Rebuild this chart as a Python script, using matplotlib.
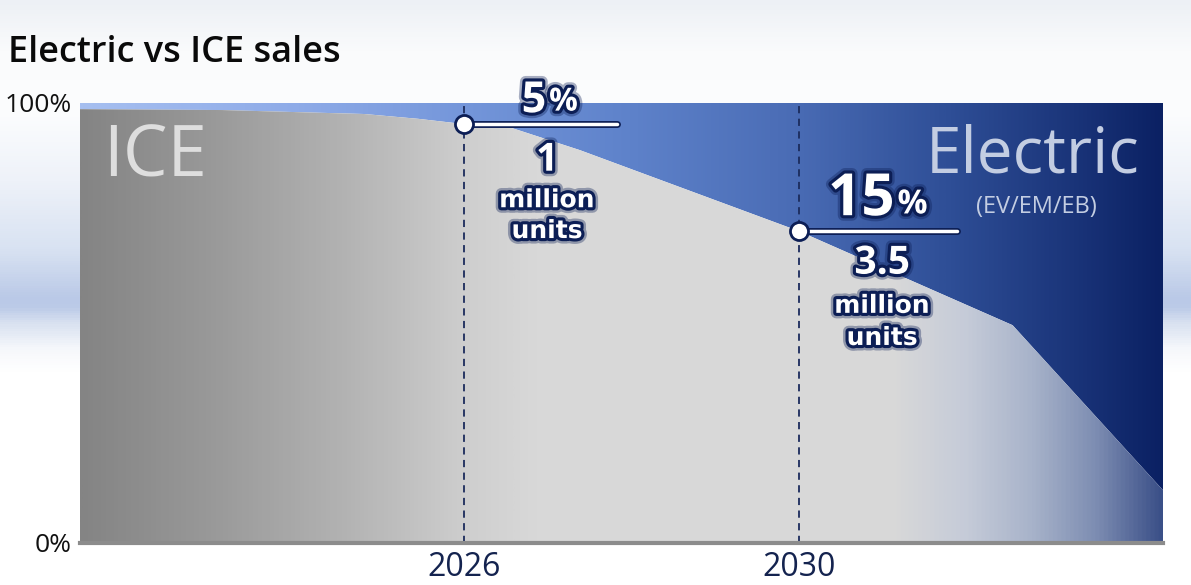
import numpy as np
import matplotlib
matplotlib.use("Agg")
import matplotlib.pyplot as plt
import matplotlib.patheffects as pe
from matplotlib.colors import LinearSegmentedColormap

years = [2021.4, 2023.1, 2024.8, 2025.45, 2026.0, 2026.57, 2027.38, 2030.0, 2032.56, 2034.36]
ice_share = [98.6, 98.4, 97.5, 96.4, 95.2, 94.3, 89.3, 70.9, 49.5, 12.0]

milestone_years = [2026, 2030]
ev_pct_labels = ["5", "15"]
unit_labels = ["1", "3.5"]
tick_years = [2026, 2030]
y_ticks = [0, 100]
y_tick_labels = ["0%", "100%"]

NAVY = "#0c1e55"
FONT = ["Open Sans", "DejaVu Sans"]

plt.rcParams["font.family"] = FONT

fig = plt.figure(figsize=(11.91, 5.85), dpi=100)

# soft background band
bg = fig.add_axes([0, 0, 1, 1], zorder=-5)
bg_cmap = LinearSegmentedColormap.from_list("bg", [
    (0.0, "#edf0f5"), (50 / 585, "#fafbfc"), (110 / 585, "#fcfdfe"),
    (180 / 585, "#eef2f9"), (250 / 585, "#d8e2f2"), (298 / 585, "#bac9e7"),
    (308 / 585, "#bccbe8"), (322 / 585, "#d7e0f0"), (348 / 585, "#f5f7fb"),
    (372 / 585, "#ffffff"), (1.0, "#ffffff")])
bg.imshow(np.linspace(0, 1, 585)[:, None], cmap=bg_cmap, aspect="auto",
          extent=[0, 1, 0, 1], origin="upper")
bg.set_axis_off()

ax = fig.add_axes([80 / 1191, 42 / 585, 1083 / 1191, 440 / 585])
x0, x1 = years[0], years[-1]
ax.set_xlim(x0, x1)
ax.set_ylim(0, 100)

ev_cmap = LinearSegmentedColormap.from_list("ev", [
    (0.0, "#a6bff0"), (0.2, "#8eabe8"), (0.355, "#7496da"), (0.5, "#5f83cb"),
    (0.66, "#4a6cb5"), (0.8, "#2f4f97"), (0.92, "#1a3479"), (1.0, "#0b2163")])
ice_cmap = LinearSegmentedColormap.from_list("ice", [
    (0.0, "#848484"), (0.12, "#999999"), (0.25, "#b4b4b4"), (0.36, "#cfcfcf"),
    (0.42, "#d8d8d8"), (0.75, "#d9d9d9"), (0.82, "#c5cbd8"), (0.88, "#a8b3ca"),
    (0.94, "#7d8db2"), (1.0, "#3b5088")])

grad = np.linspace(0, 1, 512)[None, :]

ev_poly = ax.fill_between(years, ice_share, 100, color="none", lw=0)
ice_poly = ax.fill_between(years, 0, ice_share, color="none", lw=0)

for cmap, poly in [(ev_cmap, ev_poly), (ice_cmap, ice_poly)]:
    im = ax.imshow(grad, cmap=cmap, aspect="auto", extent=[x0, x1, 0, 100],
                   origin="lower", zorder=1)
    im.set_clip_path(poly.get_paths()[0], transform=ax.transData)

ax.vlines(milestone_years, 0, 100, colors="#1b2b5c", linestyles=(0, (4, 3)),
          lw=1.3, zorder=2)

ax.text(0.021, 0.832, "ICE", transform=ax.transAxes, fontsize=51,
        color="#dedede", ha="left", va="baseline", zorder=3)
ax.text(0.880, 0.841, "Electric", transform=ax.transAxes, fontsize=46,
        color="#c3cde2", ha="center", va="baseline", zorder=3)
ax.text(0.883, 0.75, "(EV/EM/EB)", transform=ax.transAxes, fontsize=17,
        color="#c3cde2", ha="center", va="baseline", zorder=3)

glow = [pe.Stroke(linewidth=8, foreground=NAVY, alpha=0.35),
        pe.Stroke(linewidth=4.5, foreground=NAVY), pe.Normal()]

# milestone callouts
lead_len = [1.83, 1.9]
big_size = [31, 42]
pct_size = [23, 24]
pct_right = [2026.98, 2031.15]
label_cx = [2026.99, 2031.0]
pct_lift = [2.7, 3.6]
line_gap = [[8.2, 17.3, 24.3], [7.3, 17.0, 24.3]]
for i, yr in enumerate(milestone_years):
    yv = ice_share[years.index(yr)]
    ax.plot([yr, yr + lead_len[i]], [yv, yv], color="white", lw=2.5,
            solid_capstyle="round", zorder=4,
            path_effects=[pe.Stroke(linewidth=5, foreground=NAVY), pe.Normal()])
    ax.plot(yr, yv, "o", ms=13, mfc="white", mec=NAVY, mew=2, zorder=5)

    t = ax.text(pct_right[i], yv + pct_lift[i], ev_pct_labels[i],
                fontsize=big_size[i], fontweight="bold", color="white",
                ha="right", va="baseline", zorder=6, path_effects=glow)
    ax.annotate("%", xy=(1, 0), xycoords=t,
                xytext=(2, 0.27 * big_size[i]), textcoords="offset points",
                fontsize=pct_size[i], fontweight="bold", color="white",
                ha="left", va="baseline", zorder=6, path_effects=glow)

    cx = label_cx[i]
    ax.text(cx, yv - line_gap[i][0], unit_labels[i], fontsize=28,
            fontweight="bold", color="white", ha="center", va="center",
            zorder=6, path_effects=glow)
    ax.text(cx, yv - line_gap[i][1], "million", fontsize=18,
            fontweight="bold", color="white", ha="center", va="center",
            family=["DejaVu Sans"], zorder=6, path_effects=glow)
    ax.text(cx, yv - line_gap[i][2], "units", fontsize=18,
            fontweight="bold", color="white", ha="center", va="center",
            family=["DejaVu Sans"], zorder=6, path_effects=glow)

for side in ["top", "right", "left"]:
    ax.spines[side].set_visible(False)
ax.spines["bottom"].set_color("#8c8c8c")
ax.spines["bottom"].set_linewidth(3)
ax.spines["bottom"].set_zorder(7)

ax.set_xticks(tick_years)
ax.set_xticklabels([str(y) for y in tick_years], fontsize=23, color="#14234f")
ax.set_yticks(y_ticks)
ax.set_yticklabels(y_tick_labels, fontsize=19, color="#111111")
ax.tick_params(axis="x", length=0, pad=6)
ax.tick_params(axis="y", length=0, pad=6)

fig.text(8 / 1191, 1 - 62 / 585, "Electric vs ICE sales", fontsize=26,
         fontweight="semibold", color="#0a0a0a", ha="left", va="baseline")

fig.savefig("out.png", dpi=100)
